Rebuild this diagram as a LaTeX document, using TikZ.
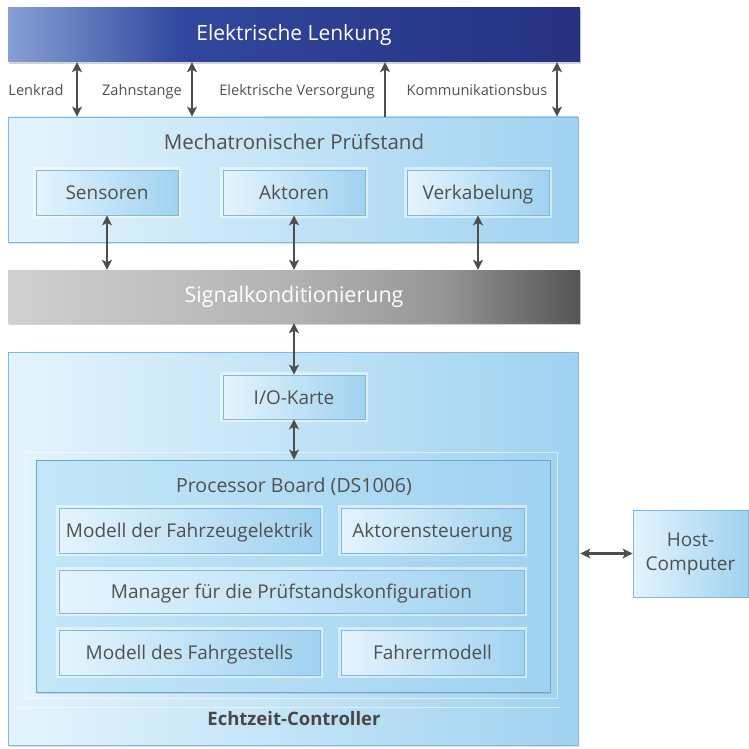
\documentclass[tikz,border=0pt]{standalone}
\usepackage{fontspec}
\setmainfont{Open Sans}
\usetikzlibrary{arrows.meta,shadows}
\definecolor{txt}{RGB}{80,80,80}
\definecolor{arrc}{RGB}{78,78,78}
\definecolor{pLight}{RGB}{228,244,253}
\definecolor{pMid}{RGB}{195,230,248}
\definecolor{pDark}{RGB}{160,210,240}
\definecolor{pEdge}{RGB}{125,185,226}
\definecolor{bLight}{RGB}{135,160,212}
\definecolor{bMid}{RGB}{48,72,158}
\definecolor{bDark}{RGB}{38,48,128}
\definecolor{gLight}{RGB}{208,208,208}
\definecolor{gMid}{RGB}{178,178,178}
\definecolor{gMid2}{RGB}{150,150,150}
\definecolor{gDark}{RGB}{85,85,85}
\pgfdeclarehorizontalshading{lenksh}{100bp}{color(0bp)=(bLight); color(25bp)=(bLight); color(40bp)=(bMid); color(75bp)=(bDark); color(100bp)=(bDark)}
\pgfdeclarehorizontalshading{sigsh}{100bp}{color(0bp)=(gLight); color(25bp)=(gLight); color(50bp)=(gMid); color(63bp)=(gMid2); color(75bp)=(gDark); color(100bp)=(gDark)}
\tikzset{
  panel/.style={draw=pEdge, line width=0.8pt, left color=pLight, middle color=pMid, right color=pDark,
    drop shadow={opacity=0.25, shadow xshift=1pt, shadow yshift=-1.5pt}},
  boxbase/.style={draw=pEdge, line width=0.8pt, left color=pLight, middle color=pMid, right color=pDark,
    preaction={draw=white, draw opacity=0.5, line width=6pt},
    text=txt, font=\fontsize{19}{23}\selectfont, inner sep=0pt},
  inbox/.style={boxbase, text height=14pt, text depth=0pt},
  lenkbox/.style={shading=lenksh, draw=none,
    drop shadow={opacity=0.35, shadow xshift=1pt, shadow yshift=-2pt},
    text=white, font=\fontsize{21}{25}\selectfont, inner sep=0pt},
  sigbox/.style={shading=sigsh, draw=none,
    drop shadow={opacity=0.35, shadow xshift=1pt, shadow yshift=-2pt},
    text=white, font=\fontsize{21.5}{25}\selectfont, inner sep=0pt},
  title/.style={text=txt, font=\fontsize{19.5}{23}\selectfont, inner sep=0pt, text height=14.5pt, text depth=0pt},
  lbl/.style={text=txt, font=\fontsize{14.6}{17}\selectfont, inner sep=0pt, text height=11pt, text depth=0pt},
  arr/.style={draw=arrc, line width=2.6pt, arrows={Stealth[length=10pt,width=10pt,inset=2.5pt]-Stealth[length=10pt,width=10pt,inset=2.5pt]}},
  arrup/.style={draw=arrc, line width=2.6pt, arrows={-Stealth[length=10pt,width=10pt,inset=2.5pt]}},
  faint/.style={draw=white, draw opacity=0.55, line width=1pt}
}
\begin{document}
\begin{tikzpicture}[x=1pt,y=-1pt]
\useasboundingbox (0,0) rectangle (748,749);
% top block
\node[lenkbox, minimum width=572pt, minimum height=54pt] (lenk) at (294,35) {Elektrische Lenkung};
% Mechatronischer Pruefstand
\node[panel, minimum width=570pt, minimum height=125pt, inner sep=0pt] (mech) at (293,179.5) {};
\node[title, font=\fontsize{20.5}{24}\selectfont] (mechT) at (294,142) {Mechatronischer Prüfstand};
\node[inbox, minimum width=142pt, minimum height=45pt] (sens) at (107,192.5) {Sensoren};
\node[inbox, minimum width=142pt, minimum height=45pt] (akt) at (294,192.5) {Aktoren};
\node[inbox, minimum width=142pt, minimum height=45pt] (verk) at (478,192.5) {Verkabelung};
% Signalkonditionierung
\node[sigbox, minimum width=572pt, minimum height=53pt] (sig) at (294,296.5) {Signalkonditionierung};
% Echtzeit-Controller
\node[panel, minimum width=570pt, minimum height=393pt, inner sep=0pt] (echt) at (293,548.5) {};
\node[inbox, minimum width=142pt, minimum height=44pt] (io) at (294,397) {I/O-Karte};
\draw[faint] (25,452) rectangle (557,698);
\draw[faint] (18,707) -- (560,707);
\node[panel, draw=pEdge!90!black, minimum width=514pt, minimum height=232pt, inner sep=0pt,
      left color=pMid, middle color=pMid!85!pDark, right color=pDark] (proc) at (293,576) {};
\node[title] (procT) at (294,485) {Processor Board (DS1006)};
\node[inbox, minimum width=261pt, minimum height=45pt] (mdf) at (189.5,530.5) {Modell der Fahrzeugelektrik};
\node[inbox, minimum width=183pt, minimum height=45pt] (aks) at (432.5,530.5) {Aktorensteuerung};
\node[inbox, minimum width=465pt, minimum height=43pt] (man) at (291.5,591.5) {Manager für die Prüfstandskonfiguration};
\node[inbox, minimum width=261pt, minimum height=45pt] (mfg) at (189.5,652.5) {Modell des Fahrgestells};
\node[inbox, minimum width=183pt, minimum height=45pt] (fm) at (432.5,652.5) {Fahrermodell};
\node[title, text=txt!90!black, font=\fontsize{18.5}{22}\selectfont\bfseries] (echtT) at (294,718) {Echtzeit-Controller};
% Host
\node[boxbase, minimum width=115pt, minimum height=87pt, align=center,
      font=\fontsize{19}{24}\selectfont] (host) at (690.5,553.5) {Host-\\Computer};
% labels
\node[lbl] (l1) at (36,90) {Lenkrad};
\node[lbl] (l2) at (142,90) {Zahnstange};
\node[lbl] (l3) at (297,90) {Elektrische Versorgung};
\node[lbl] (l4) at (477,90) {Kommunikationsbus};
% arrows
\draw[arr] (lenk.south -| 77,0) -- (mech.north -| 77,0);
\draw[arr] (lenk.south -| 192,0) -- (mech.north -| 192,0);
\draw[arrup] (mech.north -| 385,0) -- (lenk.south -| 385,0);
\draw[arr] (lenk.south -| 557,0) -- (mech.north -| 557,0);
\draw[arr] (sens.south) -- (sig.north -| sens.south);
\draw[arr] (akt.south) -- (sig.north -| akt.south);
\draw[arr] (verk.south) -- (sig.north -| verk.south);
\draw[arr] (sig.south) -- (io.north);
\draw[arr] (io.south) -- (proc.north -| io.south);
\draw[arr] (echt.east |- host.west) ++(2,0) -- (host.west);
\end{tikzpicture}
\end{document}
